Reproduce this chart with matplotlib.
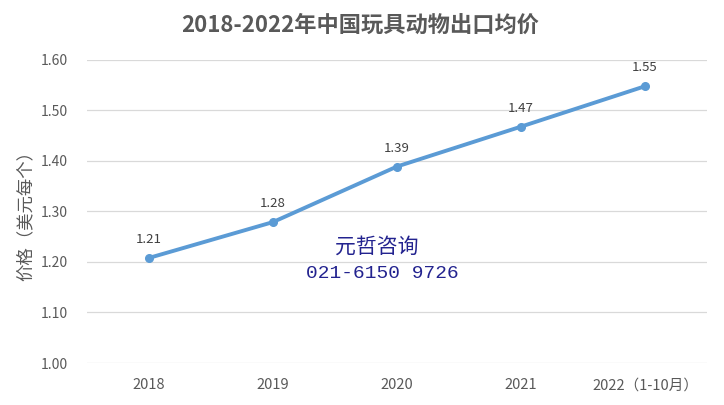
import matplotlib
matplotlib.use("Agg")
import matplotlib.pyplot as plt

plt.rcParams['font.family'] = ['Noto Sans CJK SC', 'DejaVu Sans']

categories = ["2018", "2019", "2020", "2021", "2022（1-10月）"]
values = [1.208, 1.279, 1.389, 1.468, 1.548]
labels = ["1.21", "1.28", "1.39", "1.47", "1.55"]
yticks = [1.00, 1.10, 1.20, 1.30, 1.40, 1.50, 1.60]

fig = plt.figure(figsize=(7.24, 4.05), dpi=100)
ax = fig.add_axes([0.120, 0.1037, 0.8565, 0.7482])

x = list(range(len(categories)))
ax.plot(x, values, color="#5B9BD5", linewidth=2.8, marker="o", markersize=5.5,
        solid_capstyle="round", zorder=3)
for xi, v, lb in zip(x, values, labels):
    ax.annotate(lb, (xi, v), xytext=(0, 8.5), textcoords="offset points",
                ha="center", va="bottom", fontsize=9.5, color="#404040")

ax.set_xlim(-0.5, len(categories) - 0.5)
ax.set_ylim(1.0, 1.6)
ax.set_yticks(yticks)
ax.set_yticklabels([f"{t:.2f}" for t in yticks])
ax.set_xticks(x)
ax.set_xticklabels(categories)
ax.tick_params(axis="both", length=0, labelsize=10, colors="#595959")
ax.tick_params(axis="y", pad=14)
ax.tick_params(axis="x", pad=11, labelsize=10.5)
ax.grid(axis="y", color="#D9D9D9", linewidth=0.9)
ax.set_axisbelow(True)
for s in ax.spines.values():
    s.set_visible(False)

ax.set_ylabel("价格（美元每个）", fontsize=12.5, color="#595959", labelpad=4)

fig.text(0.497, 0.938, "2018-2022年中国玩具动物出口均价", ha="center", va="center",
         fontsize=16, fontweight="bold", color="#595959")

fig.text(0.521, 0.392, "元哲咨询", ha="center", va="center", fontsize=15,
         color="#23238F", family=["Noto Sans CJK SC"])
fig.text(0.528, 0.325, "021-6150 9726", ha="center", va="center", fontsize=14,
         color="#23238F", family=["Liberation Mono"])

fig.savefig("out.png", dpi=100)
